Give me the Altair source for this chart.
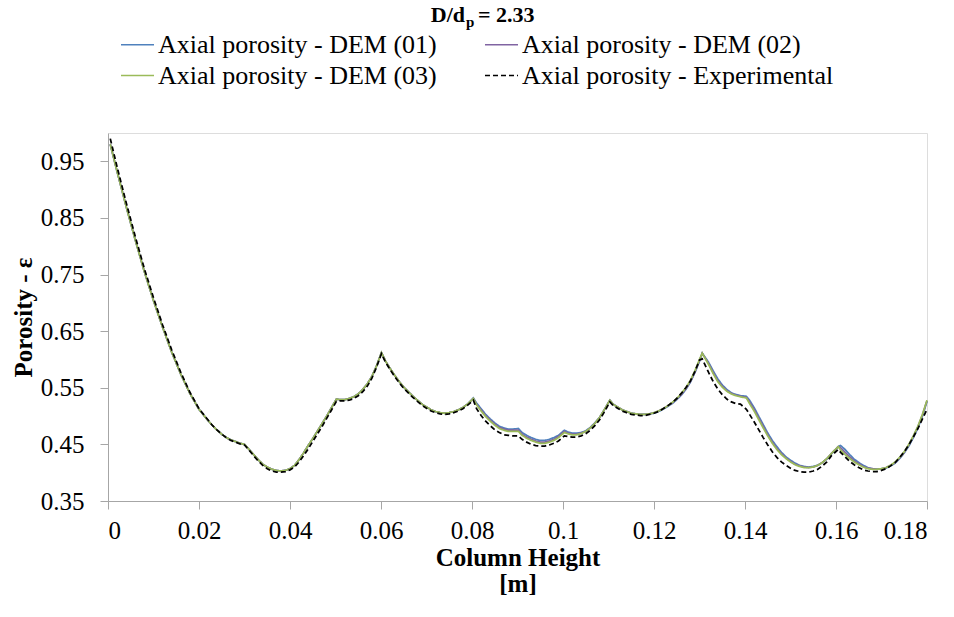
import altair as alt
import pandas as pd

# Column height (m), shared by every series
height_m = [
    0.0005, 0.002, 0.004, 0.006, 0.008, 0.010, 0.012, 0.014, 0.016, 0.018, 0.020,
    0.021, 0.022, 0.023, 0.024, 0.025, 0.026, 0.027, 0.028, 0.029, 0.030,
    0.031, 0.032, 0.033, 0.034, 0.035, 0.036, 0.037, 0.038, 0.039, 0.040,
    0.041, 0.042, 0.043, 0.044, 0.045, 0.046, 0.047, 0.048, 0.049,
    0.0502,
    0.051, 0.052, 0.053, 0.054, 0.055, 0.056, 0.057, 0.058, 0.059,
    0.0601,
    0.061, 0.062, 0.063, 0.064, 0.065, 0.066, 0.067, 0.068, 0.069, 0.070,
    0.071, 0.072, 0.073, 0.074, 0.075, 0.076, 0.077, 0.078, 0.079,
    0.0803,
    0.081, 0.082, 0.083, 0.084, 0.085, 0.086, 0.087, 0.088, 0.089,
    0.0902,
    0.091, 0.092, 0.093, 0.094, 0.095, 0.096, 0.097, 0.098, 0.099,
    0.1003,
    0.101, 0.102, 0.103, 0.104, 0.105, 0.106, 0.107, 0.108, 0.109,
    0.1103,
    0.111, 0.112, 0.113, 0.114, 0.115, 0.116, 0.117, 0.118, 0.119, 0.120,
    0.121, 0.122, 0.123, 0.124, 0.125, 0.126, 0.127, 0.128, 0.129, 0.130,
    0.1306,
    0.132, 0.133, 0.134, 0.135, 0.136, 0.137, 0.138, 0.139,
    0.1403,
    0.141, 0.142, 0.143, 0.144, 0.145, 0.146, 0.147, 0.148, 0.149, 0.150,
    0.151, 0.152, 0.153, 0.154, 0.155, 0.156, 0.157, 0.158, 0.159,
    0.1605,
    0.161, 0.162, 0.163, 0.164, 0.165, 0.166, 0.167, 0.168, 0.169, 0.170,
    0.171, 0.172, 0.173, 0.174, 0.175, 0.176, 0.177, 0.178, 0.179, 0.180,
]

dem_01 = [
    0.980, 0.932, 0.870, 0.811, 0.755, 0.704, 0.657, 0.613, 0.574, 0.540, 0.512,
    0.502, 0.492, 0.483, 0.475, 0.468, 0.462, 0.458, 0.455, 0.452, 0.450,
    0.441, 0.432, 0.423, 0.415, 0.410, 0.406, 0.404, 0.403, 0.404, 0.407,
    0.413, 0.423, 0.435, 0.448, 0.460, 0.473, 0.486, 0.499, 0.513,
    0.530,
    0.529, 0.529, 0.531, 0.534, 0.539, 0.547, 0.557, 0.570, 0.588,
    0.612,
    0.597, 0.584, 0.572, 0.561, 0.551, 0.543, 0.535, 0.528, 0.521, 0.516,
    0.511, 0.508, 0.506, 0.505, 0.506, 0.508, 0.511, 0.515, 0.521,
    0.532,
    0.523, 0.513, 0.503, 0.495, 0.488, 0.482, 0.479, 0.477, 0.477,
    0.478,
    0.471, 0.466, 0.462, 0.459, 0.457, 0.457, 0.459, 0.462, 0.466,
    0.475,
    0.472, 0.470, 0.470, 0.471, 0.474, 0.480, 0.488, 0.497, 0.510,
    0.528,
    0.521, 0.516, 0.511, 0.508, 0.505, 0.504, 0.503, 0.503, 0.504, 0.505,
    0.508, 0.512, 0.517, 0.522, 0.529, 0.537, 0.547, 0.560, 0.577, 0.597,
    0.611,
    0.595, 0.580, 0.566, 0.555, 0.547, 0.541, 0.538, 0.536,
    0.535,
    0.528, 0.515, 0.500, 0.485, 0.470, 0.457, 0.446, 0.436, 0.428, 0.422,
    0.417, 0.413, 0.411, 0.410, 0.411, 0.413, 0.418, 0.424, 0.433,
    0.446,
    0.448, 0.441, 0.432, 0.424, 0.418, 0.413, 0.409, 0.407, 0.406, 0.407,
    0.408, 0.412, 0.417, 0.425, 0.435, 0.447, 0.462, 0.479, 0.500, 0.526,
]

dem_02 = [
    0.980, 0.932, 0.870, 0.811, 0.755, 0.704, 0.657, 0.613, 0.574, 0.540, 0.512,
    0.502, 0.492, 0.483, 0.475, 0.468, 0.462, 0.458, 0.455, 0.452, 0.450,
    0.441, 0.432, 0.423, 0.415, 0.410, 0.406, 0.404, 0.403, 0.404, 0.407,
    0.413, 0.423, 0.435, 0.448, 0.460, 0.473, 0.486, 0.499, 0.513,
    0.530,
    0.529, 0.529, 0.531, 0.534, 0.539, 0.547, 0.557, 0.570, 0.588,
    0.612,
    0.597, 0.584, 0.572, 0.561, 0.551, 0.543, 0.535, 0.528, 0.521, 0.516,
    0.511, 0.508, 0.506, 0.505, 0.506, 0.508, 0.511, 0.515, 0.521,
    0.531,
    0.521, 0.511, 0.501, 0.493, 0.486, 0.480, 0.477, 0.475, 0.475,
    0.475,
    0.468, 0.463, 0.459, 0.456, 0.454, 0.454, 0.456, 0.459, 0.464,
    0.473,
    0.470, 0.468, 0.468, 0.470, 0.473, 0.479, 0.487, 0.497, 0.510,
    0.528,
    0.521, 0.516, 0.511, 0.508, 0.505, 0.504, 0.503, 0.503, 0.504, 0.506,
    0.509, 0.513, 0.518, 0.523, 0.530, 0.538, 0.548, 0.561, 0.578, 0.598,
    0.611,
    0.593, 0.577, 0.563, 0.553, 0.545, 0.540, 0.537, 0.535,
    0.533,
    0.525, 0.512, 0.497, 0.482, 0.467, 0.454, 0.443, 0.434, 0.426, 0.420,
    0.415, 0.412, 0.410, 0.409, 0.410, 0.413, 0.418, 0.425, 0.434,
    0.446,
    0.444, 0.436, 0.428, 0.421, 0.416, 0.411, 0.408, 0.407, 0.406, 0.407,
    0.409, 0.413, 0.418, 0.426, 0.436, 0.449, 0.464, 0.481, 0.502, 0.527,
]

dem_03 = [
    0.980, 0.932, 0.870, 0.811, 0.755, 0.704, 0.657, 0.613, 0.574, 0.540, 0.512,
    0.502, 0.492, 0.483, 0.475, 0.468, 0.462, 0.458, 0.455, 0.452, 0.450,
    0.441, 0.432, 0.423, 0.415, 0.410, 0.406, 0.404, 0.403, 0.404, 0.407,
    0.413, 0.423, 0.435, 0.448, 0.460, 0.473, 0.486, 0.499, 0.513,
    0.530,
    0.529, 0.529, 0.531, 0.534, 0.539, 0.547, 0.557, 0.570, 0.588,
    0.612,
    0.597, 0.584, 0.572, 0.561, 0.551, 0.543, 0.535, 0.528, 0.521, 0.516,
    0.511, 0.508, 0.506, 0.505, 0.506, 0.508, 0.511, 0.515, 0.521,
    0.531,
    0.520, 0.509, 0.499, 0.491, 0.484, 0.478, 0.475, 0.473, 0.473,
    0.473,
    0.466, 0.461, 0.457, 0.454, 0.452, 0.452, 0.454, 0.457, 0.462,
    0.471,
    0.469, 0.467, 0.467, 0.469, 0.473, 0.479, 0.487, 0.497, 0.510,
    0.528,
    0.521, 0.516, 0.511, 0.508, 0.505, 0.504, 0.503, 0.503, 0.504, 0.506,
    0.509, 0.513, 0.518, 0.524, 0.531, 0.540, 0.550, 0.563, 0.580, 0.600,
    0.611,
    0.591, 0.575, 0.561, 0.551, 0.544, 0.539, 0.536, 0.534,
    0.532,
    0.522, 0.509, 0.494, 0.479, 0.465, 0.452, 0.441, 0.432, 0.425, 0.419,
    0.414, 0.411, 0.409, 0.409, 0.410, 0.413, 0.418, 0.425, 0.434,
    0.446,
    0.440, 0.432, 0.425, 0.419, 0.414, 0.410, 0.407, 0.406, 0.406, 0.407,
    0.409, 0.413, 0.419, 0.427, 0.437, 0.450, 0.465, 0.482, 0.503, 0.528,
]

experimental = [
    0.990, 0.940, 0.877, 0.817, 0.760, 0.709, 0.661, 0.617, 0.577, 0.542, 0.513,
    0.503, 0.493, 0.483, 0.475, 0.468, 0.462, 0.457, 0.454, 0.451, 0.449,
    0.440, 0.430, 0.421, 0.413, 0.407, 0.403, 0.401, 0.401, 0.402, 0.405,
    0.410, 0.419, 0.430, 0.442, 0.455, 0.468, 0.481, 0.495, 0.509,
    0.526,
    0.527, 0.527, 0.528, 0.531, 0.536, 0.543, 0.553, 0.567, 0.586,
    0.610,
    0.595, 0.582, 0.570, 0.559, 0.549, 0.541, 0.533, 0.526, 0.519, 0.514,
    0.509, 0.506, 0.504, 0.503, 0.504, 0.506, 0.509, 0.513, 0.519,
    0.528,
    0.513, 0.501, 0.491, 0.483, 0.476, 0.471, 0.467, 0.466, 0.465,
    0.465,
    0.459, 0.454, 0.450, 0.448, 0.447, 0.447, 0.449, 0.452, 0.456,
    0.465,
    0.464, 0.463, 0.463, 0.465, 0.469, 0.475, 0.483, 0.493, 0.506,
    0.525,
    0.519, 0.514, 0.509, 0.506, 0.503, 0.502, 0.501, 0.501, 0.503, 0.505,
    0.508, 0.513, 0.518, 0.524, 0.531, 0.540, 0.550, 0.562, 0.579, 0.599,
    0.601,
    0.577, 0.561, 0.548, 0.538, 0.530, 0.525, 0.522, 0.521,
    0.512,
    0.503, 0.490, 0.476, 0.462, 0.449, 0.437, 0.427, 0.419, 0.413, 0.408,
    0.404, 0.402, 0.401, 0.401, 0.403, 0.406, 0.412, 0.419, 0.430,
    0.441,
    0.436, 0.428, 0.420, 0.414, 0.409, 0.405, 0.403, 0.402, 0.402, 0.404,
    0.407, 0.412, 0.418, 0.427, 0.437, 0.449, 0.463, 0.478, 0.495, 0.512,
]

series_names = [
    "Axial porosity - DEM (01)",
    "Axial porosity - DEM (02)",
    "Axial porosity - DEM (03)",
    "Axial porosity - Experimental",
]
series_values = [dem_01, dem_02, dem_03, experimental]
series_colors = ["#4F81BD", "#8064A2", "#9BBB59", "#000000"]
series_dashes = [[1, 0], [1, 0], [1, 0], [5, 3]]

x_ticks = [0, 0.02, 0.04, 0.06, 0.08, 0.1, 0.12, 0.14, 0.16, 0.18]
y_ticks = [0.35, 0.45, 0.55, 0.65, 0.75, 0.85, 0.95]

rows = []
for name, values in zip(series_names, series_values):
    assert len(values) == len(height_m), (name, len(values), len(height_m))
    for h, p in zip(height_m, values):
        rows.append({"height": h, "porosity": p, "series": name})
df = pd.DataFrame(rows)

FONT = "Liberation Serif, Times New Roman, serif"
AXIS_GRAY = "#A6A6A6"

lines = alt.Chart(df).mark_line(strokeWidth=1.75).encode(
    x=alt.X(
        "height:Q",
        scale=alt.Scale(domain=[0, 0.18], nice=False, zero=False),
        axis=alt.Axis(
            values=x_ticks, format="~g", title=["Column Height", "[m]"],
            titleFontWeight="bold", titleFontSize=25, titleLineHeight=26,
            titlePadding=2, labelFontSize=25, labelPadding=9, tickSize=8,
            grid=False, domainColor=AXIS_GRAY, tickColor=AXIS_GRAY,
            labelColor="black", titleColor="black", labelFont=FONT, titleFont=FONT,
        ),
    ),
    y=alt.Y(
        "porosity:Q",
        scale=alt.Scale(domain=[0.35, 1.0], nice=False, zero=False),
        axis=alt.Axis(
            values=y_ticks, format=".2f", title="Porosity - ε",
            titleFontWeight="bold", titleFontSize=25, titlePadding=4,
            labelFontSize=25, labelPadding=16, tickSize=8, grid=False,
            domainColor=AXIS_GRAY, tickColor=AXIS_GRAY,
            labelColor="black", titleColor="black", labelFont=FONT, titleFont=FONT,
        ),
    ),
    color=alt.Color(
        "series:N",
        scale=alt.Scale(domain=series_names, range=series_colors),
        legend=alt.Legend(
            title=None, orient="none", legendX=12, legendY=-106, columns=2,
            direction="horizontal", columnPadding=44, rowPadding=-3,
            symbolType="stroke", symbolSize=1090, symbolStrokeWidth=1.5,
            labelFontSize=26, labelFont=FONT, labelColor="black", labelOffset=3,
            padding=0, labelLimit=500,
        ),
    ),
    strokeDash=alt.StrokeDash(
        "series:N",
        scale=alt.Scale(domain=series_names, range=series_dashes),
        legend=None,
    ),
)

# Title with a subscripted p
title_main = alt.Chart(pd.DataFrame({"t": ["D/d"]})).mark_text(
    font=FONT, fontSize=22, fontWeight="bold", align="right", baseline="alphabetic"
).encode(text="t:N", x=alt.value(357), y=alt.value(-111))
title_sub = alt.Chart(pd.DataFrame({"t": ["p"]})).mark_text(
    font=FONT, fontSize=15, fontWeight="bold", align="left", baseline="alphabetic"
).encode(text="t:N", x=alt.value(358), y=alt.value(-106))
title_rest = alt.Chart(pd.DataFrame({"t": ["= 2.33"]})).mark_text(
    font=FONT, fontSize=22, fontWeight="bold", align="left", baseline="alphabetic"
).encode(text="t:N", x=alt.value(370), y=alt.value(-111))

chart = alt.layer(lines, title_main, title_sub, title_rest).properties(
    width=819, height=368,
    autosize=alt.AutoSizeParams(type="none"),
    padding={"left": 108, "top": 133, "right": 27, "bottom": 116},
).configure_view(stroke=None).configure(font=FONT)

chart.save("out.html", embed_options={"renderer": "svg", "actions": False})
